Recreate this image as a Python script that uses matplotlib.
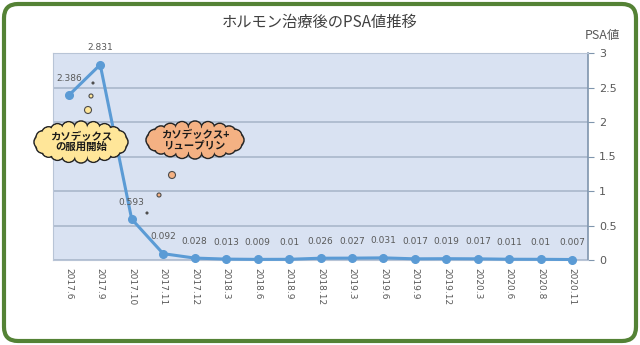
import matplotlib.pyplot as plt
import matplotlib.patches as mpatches
import numpy as np

plt.rcParams['font.family'] = ['Noto Sans CJK JP', 'DejaVu Sans']

dates = ['2017.6', '2017.9', '2017.10', '2017.11', '2017.12', '2018.3', '2018.6',
         '2018.9', '2018.12', '2019.3', '2019.6', '2019.9', '2019.12', '2020.3',
         '2020.6', '2020.8', '2020.11']
psa = [2.386, 2.831, 0.593, 0.092, 0.028, 0.013, 0.009, 0.01, 0.026, 0.027,
       0.031, 0.017, 0.019, 0.017, 0.011, 0.01, 0.007]

W, H = 640, 345
fig = plt.figure(figsize=(W / 100, H / 100), dpi=100)
fig.patch.set_facecolor('white')

# plot area in pixels
left, right, top, bottom = 53, 588, 53, 260
ax = fig.add_axes([left / W, 1 - bottom / H, (right - left) / W, (bottom - top) / H])
ax.set_facecolor('#d9e2f2')

x = np.arange(len(dates))
ax.plot(x, psa, color='#5b9bd5', lw=2.2, marker='o', ms=5.5, zorder=3, clip_on=False)
for xi, v in zip(x, psa):
    ax.annotate(f'{v:g}', (xi, v), xytext=(0, 9), textcoords='offset points',
                ha='center', va='bottom', fontsize=6.5, color='#595959',
                family=['DejaVu Sans'])

ax.set_xlim(-0.5, len(dates) - 0.5)
ax.set_ylim(0, 3)
ax.set_xticks(x)
ax.set_xticklabels(dates, rotation=-90, fontsize=6.5, color='#595959',
                   family=['DejaVu Sans'])
ax.tick_params(axis='x', length=0, pad=6)
ax.yaxis.tick_right()
ax.set_yticks(np.arange(0, 3.01, 0.5))
ax.set_yticklabels(['0', '0.5', '1', '1.5', '2', '2.5', '3'], fontsize=8,
                   color='#595959', family=['DejaVu Sans'])
ax.tick_params(axis='y', length=4, color='#7f95ad', pad=4)
ax.grid(axis='y', color='#a9b7cb', lw=1.2)
ax.set_axisbelow(True)
for s in ['top', 'left', 'bottom']:
    ax.spines[s].set_color('#b8c4d6')
ax.spines['right'].set_color('#7f95ad')
ax.spines['right'].set_linewidth(1.2)

fig.text(320 / W, 1 - 22 / H, 'ホルモン治療後のPSA値推移', ha='center', va='center',
         fontsize=11, color='#404040')
fig.text(602 / W, 1 - 35 / H, 'PSA値', ha='center', va='center',
         fontsize=9, color='#595959')

# overlay in pixel coordinates for border and callouts
ov = fig.add_axes([0, 0, 1, 1], zorder=10)
ov.set_xlim(0, W)
ov.set_ylim(H, 0)
ov.axis('off')
ov.patch.set_alpha(0)

ov.add_patch(mpatches.FancyBboxPatch((4, 4), W - 8, H - 8,
                                     boxstyle='round,pad=0,rounding_size=14',
                                     fill=False, ec='#548235', lw=3))


def cloud(cx, cy, a, b, color):
    r = 7
    n = 20
    ang = np.linspace(0, 2 * np.pi, n, endpoint=False)
    centers = [(cx + (a - r) * np.cos(t), cy + (b - r) * np.sin(t)) for t in ang]
    for c in centers:
        ov.add_patch(mpatches.Circle(c, r, fc=color, ec='#262626', lw=1.1, zorder=1))
    for c in centers:
        ov.add_patch(mpatches.Circle(c, r - 0.9, fc=color, ec='none', zorder=2))
    ov.add_patch(mpatches.Ellipse((cx, cy), 2 * (a - r), 2 * (b - r),
                                  fc=color, ec='none', zorder=2))


cloud(81, 142, 47, 21, '#ffe699')
cloud(195, 140, 49, 19, '#f4b183')
ov.text(81, 142, 'カソデックス\nの服用開始', ha='center', va='center', fontsize=7.5,
        fontweight='bold', linespacing=1.0, color='#1a1a1a', zorder=3)
ov.text(195, 140, 'カソデックス+\nリュープリン', ha='center', va='center', fontsize=7.5,
        fontweight='bold', linespacing=1.0, color='#1a1a1a', zorder=3)

for (px, py, rr, c) in [(88, 110, 3.5, '#ffe699'), (91, 96, 2, '#ffe699'), (93, 83, 1, '#333333'),
                        (172, 175, 3.5, '#f4b183'), (159, 195, 2, '#f4b183'), (147, 213, 1, '#333333')]:
    ov.add_patch(mpatches.Circle((px, py), rr, fc=c, ec='#4d4d4d', lw=0.8))

fig.savefig('out.png', dpi=100)
